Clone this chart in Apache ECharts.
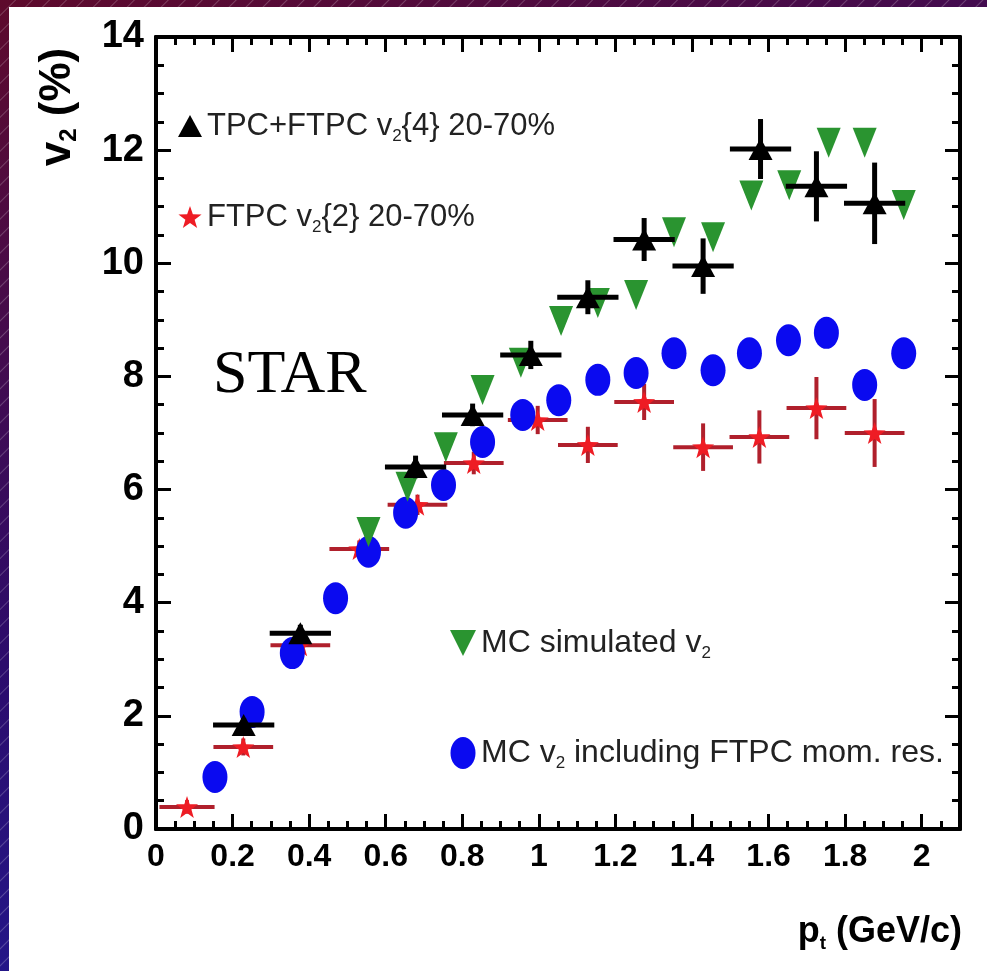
<!DOCTYPE html>
<html><head><meta charset="utf-8">
<script src="https://cdn.jsdelivr.net/npm/echarts@6/dist/echarts.min.js"></script>
<style>
html,body{margin:0;padding:0;width:987px;height:971px;overflow:hidden;}
body{background:
 repeating-linear-gradient(135deg, rgba(255,255,255,0) 0px, rgba(255,255,255,0) 10px, rgba(255,255,255,0.22) 11px, rgba(255,255,255,0) 12px),
 linear-gradient(160deg,#5e0a2c 0%,#2c0c6c 50%,#1a22a8 100%);}
#chart{position:absolute;left:9px;top:7px;width:978px;height:964px;background:#fff;}
</style></head><body><div id="chart"></div>
<script>
// ---- data ----
const xTickLabels = ['0','0.2','0.4','0.6','0.8','1','1.2','1.4','1.6','1.8','2'];
const yTickLabels = ['0','2','4','6','8','10','12','14'];

const ptBlack  = [0.229, 0.377, 0.678, 0.827, 0.979, 1.128, 1.275, 1.429, 1.579, 1.725, 1.877];
const v2Black  = [1.84, 3.46, 6.40, 7.32, 8.38, 9.40, 10.42, 9.95, 12.02, 11.36, 11.06];
const dyBlack  = [0.12, 0.15, 0.20, 0.20, 0.25, 0.30, 0.38, 0.49, 0.53, 0.62, 0.72];
const dxBlack  = [0.08, 0.08, 0.08, 0.08, 0.08, 0.08, 0.08, 0.08, 0.08, 0.08, 0.08];

const ptRed    = [0.081, 0.228, 0.377, 0.531, 0.683, 0.830, 0.997, 1.128, 1.275, 1.429, 1.576, 1.725, 1.877];
const v2Red    = [0.39, 1.45, 3.25, 4.95, 5.73, 6.47, 7.23, 6.79, 7.55, 6.75, 6.93, 7.44, 7.00];
const dyRed    = [0.12, 0.15, 0.15, 0.15, 0.18, 0.20, 0.25, 0.32, 0.32, 0.42, 0.47, 0.55, 0.60];
const dxRed    = [0.072, 0.078, 0.078, 0.078, 0.078, 0.078, 0.078, 0.078, 0.078, 0.078, 0.078, 0.078, 0.078];

const ptGreen  = [0.555, 0.657, 0.757, 0.853, 0.953, 1.058, 1.154, 1.254, 1.353, 1.455, 1.555, 1.654, 1.757, 1.851, 1.953];
const v2Green  = [5.25, 6.05, 6.75, 7.76, 8.24, 8.98, 9.30, 9.44, 10.55, 10.46, 11.20, 11.38, 12.13, 12.13, 11.03];

const ptBlue   = [0.154, 0.251, 0.356, 0.469, 0.555, 0.652, 0.751, 0.853, 0.958, 1.052, 1.154, 1.254, 1.353, 1.455, 1.550, 1.652, 1.751, 1.851, 1.953];
const v2Blue   = [0.92, 2.07, 3.11, 4.08, 4.90, 5.59, 6.08, 6.84, 7.32, 7.58, 7.94, 8.06, 8.41, 8.11, 8.41, 8.64, 8.77, 7.85, 8.41];

const seriesNames = ['tpc4', 'ftpc2', 'mcsim', 'mcres'];
const legendLabels = {
  tpc4:  'TPC+FTPC v{s|2}{4} 20-70%',
  ftpc2: 'FTPC v{s|2}{2} 20-70%',
  mcsim: 'MC simulated v{s|2}',
  mcres: 'MC v{s|2} including FTPC mom. res.'
};

// ---- chart ----
const SANS = '"Liberation Sans",Arial,sans-serif';
const STAR_PATH = 'path://M0,-10L2.35,-3.24L9.51,-3.09L3.8,1.24L5.88,8.09L0,4L-5.88,8.09L-3.8,1.24L-9.51,-3.09L-2.35,-3.24Z';
const DOWN_TRI = 'path://M0,0L10,0L5,10Z';
const ELLIPSE = 'path://M0,16A12.5,16,0,1,0,25,16A12.5,16,0,1,0,0,16Z';

function errBars(xs, ys, dxs, dys, color, width, z) {
  return {
    type: 'custom', z: z, silent: true,
    xAxisIndex: 0, yAxisIndex: 0,
    encode: {x: 0, y: 1},
    data: xs.map((x, i) => [x, ys[i], dxs[i], dys[i]]),
    renderItem: function (params, api) {
      const x = api.value(0), y = api.value(1), dx = api.value(2), dy = api.value(3);
      const a = api.coord([x - dx, y]), b = api.coord([x + dx, y]);
      const c = api.coord([x, y - dy]), d = api.coord([x, y + dy]);
      return {type: 'group', children: [
        {type: 'line', shape: {x1: a[0], y1: a[1], x2: b[0], y2: b[1]}, style: {stroke: color, lineWidth: width}},
        {type: 'line', shape: {x1: c[0], y1: c[1], x2: d[0], y2: d[1]}, style: {stroke: color, lineWidth: width}}
      ]};
    }
  };
}

function xAx(pos, major) {
  return {
    type: 'value', position: pos, min: 0, max: 2.1, interval: major ? 0.2 : 0.05,
    axisLine: {show: true, onZero: false, lineStyle: {color: '#000', width: 4}},
    axisTick: {show: true, inside: true, length: major ? 15 : 8, lineStyle: {color: '#000', width: 3}},
    splitLine: {show: false},
    axisLabel: {
      show: major && pos === 'bottom', showMaxLabel: false, margin: 12,
      color: '#000', fontFamily: SANS, fontWeight: 'bold', fontSize: 32,
      formatter: function (v) { const i = Math.round(v / 0.2); return Math.abs(v - i * 0.2) < 1e-6 ? (xTickLabels[i] || '') : ''; }
    }
  };
}
function yAx(pos) {
  return {
    type: 'value', position: pos, min: 0, max: 14, interval: 2,
    axisLine: {show: true, onZero: false, lineStyle: {color: '#000', width: 4}},
    axisTick: {show: true, inside: true, length: 15, lineStyle: {color: '#000', width: 3}},
    minorTick: {show: true, splitNumber: 4, length: 8, lineStyle: {color: '#000', width: 3}},
    splitLine: {show: false}, minorSplitLine: {show: false},
    axisLabel: {
      show: pos === 'left', margin: 12,
      color: '#000', fontFamily: SANS, fontWeight: 'bold', fontSize: 38,
      formatter: function (v) { return yTickLabels[Math.round(v / 2)]; }
    }
  };
}

const richSub = {
  s: {fontSize: 17, fontFamily: SANS, color: '#222', verticalAlign: 'bottom', lineHeight: 18}
};

const chart = echarts.init(document.getElementById('chart'), null, {renderer: 'canvas'});
chart.setOption({
  backgroundColor: '#fff',
  animation: false,
  grid: {left: 147, top: 30, right: 27, bottom: 142, containLabel: false},
  xAxis: [xAx('bottom', true), xAx('bottom', false), xAx('top', true), xAx('top', false)],
  yAxis: [yAx('left'), yAx('right')],
  legend: [
    {
      data: [seriesNames[0], seriesNames[1]], orient: 'vertical', left: 164, top: 95,
      itemWidth: 24, itemHeight: 22, itemGap: 53, selectedMode: false,
      formatter: n => legendLabels[n],
      textStyle: {fontFamily: SANS, fontSize: 31, color: '#222', lineHeight: 38, rich: richSub}
    },
    {
      data: [seriesNames[2], {name: seriesNames[3], icon: ELLIPSE}], orient: 'vertical', left: 436, top: 612,
      itemWidth: 26, itemHeight: 32, itemGap: 72, selectedMode: false,
      formatter: n => legendLabels[n],
      textStyle: {fontFamily: SANS, fontSize: 32, color: '#222', lineHeight: 38, rich: richSub}
    }
  ],
  graphic: [
    {type: 'text', left: 204, top: 338, style: {text: 'STAR', font: '62px "Liberation Serif", "Times New Roman", serif', fill: '#000'}},
    {type: 'text', x: 49, y: 100, rotation: Math.PI / 2,
     style: {text: '{b|v}{bs|2}{b| (%)}', align: 'center', verticalAlign: 'middle',
       rich: {b: {fontFamily: SANS, fontWeight: 'bold', fontSize: 44, lineHeight: 46, fill: '#000', color: '#000'},
              bs: {fontFamily: SANS, fontWeight: 'bold', fontSize: 24, lineHeight: 24, verticalAlign: 'bottom', fill: '#000', color: '#000'}}}},
    {type: 'text', x: 953, y: 925,
     style: {text: '{b|p}{bs|t}{b| (GeV/c)}', align: 'right', verticalAlign: 'middle',
       rich: {b: {fontFamily: SANS, fontWeight: 'bold', fontSize: 36, lineHeight: 42, fill: '#000', color: '#000'},
              bs: {fontFamily: SANS, fontWeight: 'bold', fontSize: 19, lineHeight: 19, verticalAlign: 'bottom', fill: '#000', color: '#000'}}}}
  ],
  series: [
    errBars(ptRed, v2Red, dxRed, dyRed, '#b0202c', 4, 2),
    {name: 'ftpc2', type: 'scatter', z: 3, symbol: STAR_PATH, symbolSize: 22,
     itemStyle: {color: '#ee1c24', opacity: 1}, data: ptRed.map((x, i) => [x, v2Red[i]])},
    {name: 'mcres', type: 'scatter', z: 4, symbol: 'circle', symbolSize: [25, 32],
     itemStyle: {color: '#0a0af0', opacity: 1}, data: ptBlue.map((x, i) => [x, v2Blue[i]])},
    {name: 'mcsim', type: 'scatter', z: 5, symbol: DOWN_TRI, symbolSize: [24, 30],
     itemStyle: {color: '#2a9430', opacity: 1}, data: ptGreen.map((x, i) => [x, v2Green[i]])},
    errBars(ptBlack, v2Black, dxBlack, dyBlack, '#000', 5, 6),
    {name: 'tpc4', type: 'scatter', z: 7, symbol: 'triangle', symbolSize: [24, 22],
     itemStyle: {color: '#000', opacity: 1}, data: ptBlack.map((x, i) => [x, v2Black[i]])}
  ]
});
</script>
</body></html>
